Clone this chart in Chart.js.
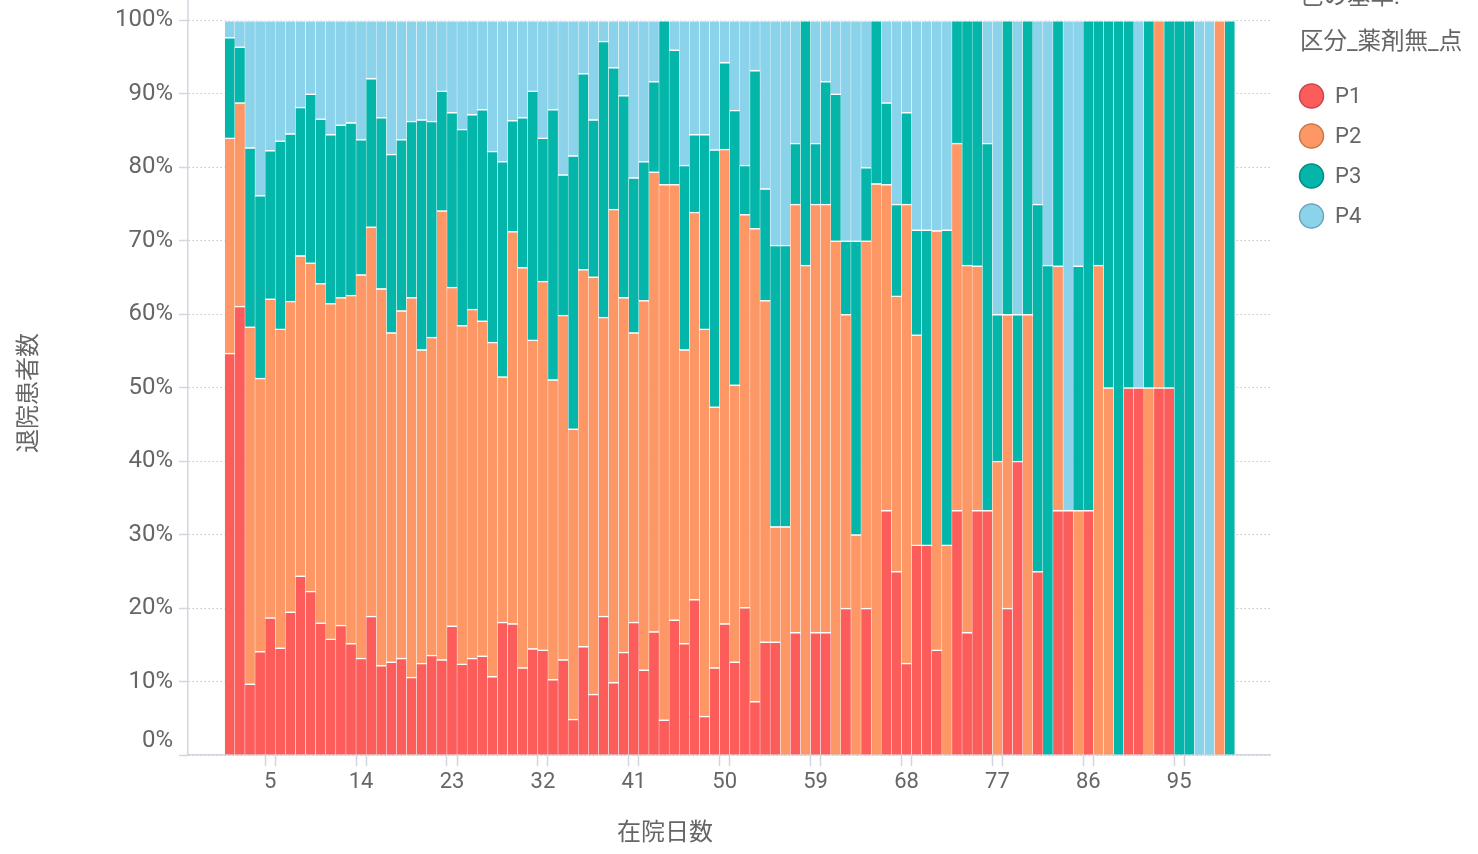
<!DOCTYPE html>
<html lang="ja">
<head>
<meta charset="utf-8">
<title>在院日数別 退院患者数</title>
<script src="https://cdn.jsdelivr.net/npm/chart.js@4.4.1/dist/chart.umd.min.js"></script>
<style>
  html, body { margin: 0; padding: 0; background: #fff; }
  #wrap { width: 1478px; height: 854px; overflow: hidden; }
</style>
</head>
<body>
<div id="wrap"><canvas id="stay-chart" width="1478" height="854"></canvas></div>
<script>
// 在院日数
const days = [
  1, 2, 3, 4, 5, 6, 7, 8, 9, 10, 11, 12, 13, 14, 15, 16, 17, 18, 19, 20,
  21, 22, 23, 24, 25, 26, 27, 28, 29, 30, 31, 32, 33, 34, 35, 36, 37, 38, 39, 40,
  41, 42, 43, 44, 45, 46, 47, 48, 49, 50, 51, 52, 53, 54, 55, 56, 57, 58, 59, 60,
  61, 62, 63, 64, 65, 66, 67, 68, 69, 70, 71, 72, 73, 74, 75, 76, 77, 78, 79, 80,
  81, 82, 83, 84, 85, 86, 87, 88, 89, 90, 91, 92, 93, 94, 95, 96, 97, 98, 99, 100
];

const seriesNames = ['P1', 'P2', 'P3', 'P4'];

// 退院患者数の構成比 (%)
const p1Share = [
  54.7, 61.1, 9.7, 14.1, 18.7, 14.6, 19.5, 24.4, 22.3, 18.0,
  15.8, 17.7, 15.2, 13.2, 18.9, 12.2, 12.7, 13.2, 10.6, 12.5,
  13.6, 13.0, 17.6, 12.4, 13.2, 13.5, 10.7, 18.1, 17.9, 11.9,
  14.5, 14.3, 10.3, 13.0, 4.9, 14.8, 8.3, 18.9, 9.9, 14.0,
  18.1, 11.6, 16.8, 4.8, 18.4, 15.2, 21.2, 5.3, 11.9, 17.9,
  12.7, 20.1, 7.3, 15.4, 15.4, 0, 16.7, 0, 16.7, 16.7,
  0, 20, 0, 20, 0, 33.3, 25, 12.5, 28.6, 28.6,
  14.3, 0, 33.3, 16.7, 33.3, 33.3, 0, 20, 40, 0,
  25, 0, 33.3, 33.3, 0, 33.3, 0, 0, 0, 50,
  50, 0, 50, 50, 0, 0, 0, 0, 0, 0
];
const p2Share = [
  29.3, 27.7, 48.6, 37.2, 43.4, 43.4, 42.3, 43.6, 44.7, 46.2,
  45.7, 44.6, 47.4, 52.2, 53.0, 51.3, 44.8, 47.3, 51.7, 42.7,
  43.3, 61.1, 46.1, 46.1, 47.5, 45.6, 45.5, 33.4, 53.4, 54.5,
  42.0, 50.2, 40.8, 46.9, 39.5, 51.3, 56.8, 40.7, 64.4, 48.3,
  39.4, 50.3, 62.6, 72.9, 59.3, 40.0, 52.7, 52.7, 35.5, 64.6,
  37.7, 53.5, 64.4, 46.5, 15.7, 31.1, 58.3, 66.7, 58.3, 58.3,
  70, 40, 30, 50, 77.8, 44.4, 37.5, 62.5, 28.6, 0,
  57.1, 28.6, 50, 50, 33.3, 0, 40, 40, 0, 60,
  0, 0, 33.3, 0, 33.3, 0, 66.7, 50, 0, 0,
  0, 50, 50, 0, 0, 0, 0, 0, 100, 0
];
const p3Share = [
  13.7, 7.6, 24.4, 24.9, 20.2, 25.6, 22.8, 20.2, 23.0, 22.4,
  23.0, 23.5, 23.5, 18.4, 20.2, 23.3, 24.3, 23.3, 24.0, 31.3,
  29.4, 16.3, 23.8, 26.7, 26.5, 28.8, 26.0, 29.3, 15.1, 20.4,
  33.9, 19.5, 36.8, 19.1, 37.2, 26.7, 21.4, 37.6, 19.3, 27.5,
  21.1, 18.9, 12.3, 22.3, 18.3, 25.1, 10.6, 26.5, 35.0, 11.8,
  37.4, 6.7, 21.5, 15.2, 38.3, 38.3, 8.3, 33.3, 8.3, 16.7,
  20, 10, 40, 10, 22.2, 11.1, 12.5, 12.5, 14.3, 42.9,
  0, 42.9, 16.7, 33.3, 33.4, 50, 20, 40, 20, 40,
  50, 66.7, 33.4, 0, 33.3, 66.7, 33.3, 50, 100, 50,
  0, 50, 0, 50, 100, 100, 0, 0, 0, 100
];
const p4Share = [
  2.3, 3.6, 17.3, 23.8, 17.7, 16.4, 15.4, 11.8, 10.0, 13.4,
  15.5, 14.2, 13.9, 16.2, 7.9, 13.2, 18.2, 16.2, 13.7, 13.5,
  13.7, 9.6, 12.5, 14.8, 12.8, 12.1, 17.8, 19.2, 13.6, 13.2,
  9.6, 16.0, 12.1, 21.0, 18.4, 7.2, 13.5, 2.8, 6.4, 10.2,
  21.4, 19.2, 8.3, 0, 4.0, 19.7, 15.5, 15.5, 17.6, 5.7,
  12.2, 19.7, 6.8, 22.9, 30.6, 30.6, 16.7, 0, 16.7, 8.3,
  10, 30, 30, 20, 0, 11.2, 25, 12.5, 28.5, 28.5,
  28.6, 28.5, 0, 0, 0, 16.7, 40, 0, 40, 0,
  25, 33.3, 0, 66.7, 33.4, 0, 0, 0, 0, 0,
  50, 0, 0, 0, 0, 0, 100, 100, 0, 0
];

// x軸に表示する日数
const xTickDays = [5, 14, 23, 32, 41, 50, 59, 68, 77, 86, 95];
const legendHeading = ['色の基準:', '区分_薬剤無_点'];
const xAxisTitle = '在院日数';
const yAxisTitle = '退院患者数';

const fillColors = ['#FC5D5B', '#FD9866', '#03B6A9', '#8AD3EA'];
const edgeColors = ['#C8474A', '#C9774C', '#028C82', '#6BA8BB'];
const textColor = '#666666';
const axisColor = '#D3D6E0';
const gridColor = '#C4C4C4';
const fontFamily = "Roboto, 'Noto Sans CJK JP', sans-serif";

Chart.defaults.font.family = fontFamily;
Chart.defaults.color = textColor;

const shares = [p1Share, p2Share, p3Share, p4Share];

const datasets = seriesNames.map((name, k) => ({
  label: name,
  data: days.map((d, i) => ({ x: d, y: shares[k][i] })),
  backgroundColor: fillColors[k],
  borderColor: '#ffffff',
  borderWidth: { top: 1.5, left: 0.5, right: 0.5, bottom: 0 },
  barThickness: 'flex',
  barPercentage: 1,
  categoryPercentage: 1
}));

// 凡例 (右上)
const legendBlock = {
  id: 'legendBlock',
  afterDraw(chart) {
    const { ctx, chartArea } = chart;
    const x0 = chartArea.right;
    ctx.save();
    ctx.textBaseline = 'middle';
    ctx.fillStyle = textColor;
    ctx.font = '23.5px ' + fontFamily;
    legendHeading.forEach((line, i) => ctx.fillText(line, x0 + 30, -2 + i * 45));
    ctx.font = '22px ' + fontFamily;
    chart.data.datasets.forEach((ds, i) => {
      const y = 96 + i * 40;
      ctx.beginPath();
      ctx.arc(x0 + 41.5, y, 12, 0, Math.PI * 2);
      ctx.fillStyle = fillColors[i];
      ctx.fill();
      ctx.lineWidth = 1.5;
      ctx.strokeStyle = edgeColors[i];
      ctx.stroke();
      ctx.fillStyle = textColor;
      ctx.fillText(ds.label, x0 + 65, y + 1);
    });
    ctx.restore();
  }
};

// 軸タイトル
const axisCaptions = {
  id: 'axisCaptions',
  afterDraw(chart) {
    const { ctx } = chart;
    ctx.save();
    ctx.font = '24px ' + fontFamily;
    ctx.fillStyle = textColor;
    ctx.textAlign = 'center';
    ctx.textBaseline = 'middle';
    ctx.fillText(xAxisTitle, 665, 834);
    ctx.translate(30, 393);
    ctx.rotate(-Math.PI / 2);
    ctx.fillText(yAxisTitle, 0, 0);
    ctx.restore();
  }
};

// y軸線を上端まで伸ばす
const axisTop = {
  id: 'axisTop',
  afterDraw(chart) {
    const { ctx, chartArea } = chart;
    ctx.save();
    ctx.strokeStyle = axisColor;
    ctx.lineWidth = 1.5;
    ctx.beginPath();
    ctx.moveTo(chartArea.left, 0);
    ctx.lineTo(chartArea.left, chartArea.top);
    ctx.stroke();
    ctx.restore();
  }
};

const ctx = document.getElementById('stay-chart').getContext('2d');

new Chart(ctx, {
  type: 'bar',
  data: { datasets: datasets },
  options: {
    responsive: false,
    animation: false,
    layout: {
      autoPadding: false,
      padding: { top: 19, right: 208, bottom: 0, left: 0 }
    },
    plugins: {
      legend: { display: false },
      tooltip: { enabled: false }
    },
    scales: {
      x: {
        type: 'linear',
        stacked: true,
        offset: false,
        min: -3.14,
        max: 103.99,
        afterBuildTicks: (scale) => {
          // ラベル位置と、その日の棒の両端に目盛り
          scale.ticks = xTickDays.flatMap(d => [{ value: d - 0.5 }, { value: d }, { value: d + 0.5 }]);
        },
        afterFit: (scale) => { scale.height = 99; },
        ticks: {
          autoSkip: false,
          maxRotation: 0,
          minRotation: 0,
          padding: 3,
          font: { size: 22 },
          color: textColor,
          callback: (value) => Number.isInteger(value) ? String(value) : ''
        },
        grid: {
          offset: false,
          drawOnChartArea: false,
          tickLength: 11,
          tickWidth: 1.5,
          tickColor: (c) => (c.tick && Number.isInteger(c.tick.value)) ? 'rgba(0,0,0,0)' : axisColor
        },
        border: { display: true, color: axisColor, width: 1.5 }
      },
      y: {
        stacked: true,
        min: 0,
        max: 100,
        afterFit: (scale) => { scale.width = 188; },
        ticks: {
          stepSize: 10,
          padding: 6,
          font: { size: 24 },
          color: textColor,
          callback: (value) => value === 0 ? ['0%', ''] : value + '%'
        },
        grid: {
          color: gridColor,
          lineWidth: 1,
          tickLength: 9,
          tickWidth: 1.5,
          tickColor: axisColor
        },
        border: { display: true, color: axisColor, width: 1.5, dash: [1.5, 2.5] }
      }
    }
  },
  plugins: [legendBlock, axisCaptions, axisTop]
});
</script>
</body>
</html>
